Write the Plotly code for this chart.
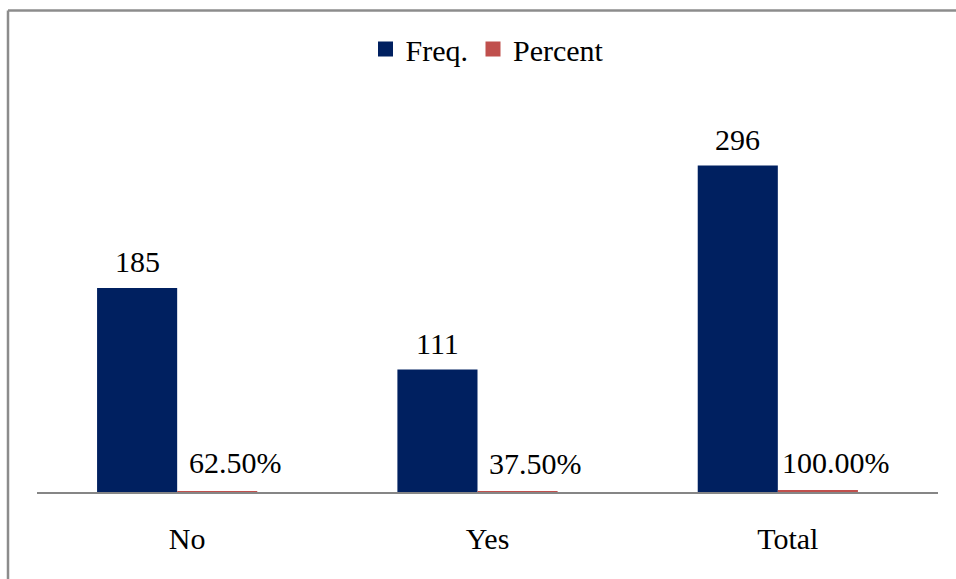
import plotly.graph_objects as go

categories = ["No", "Yes", "Total"]
freq = [185, 111, 296]
percent = [0.625, 0.375, 1.0]
percent_labels = ["62.50%", "37.50%", "100.00%"]

W, H = 956, 579
L, R, T, B = 37, 18, 106, 87
pw, ph = W - L - R, H - T - B

NAVY = "#002060"
RED = "#C0504D"
FONT = "Liberation Serif"
FS = 30

fig = go.Figure()
fig.add_trace(go.Bar(x=categories, y=freq, name="Freq.", offset=-0.3, width=0.2667, showlegend=False,
                     marker=dict(color=NAVY, line=dict(width=0))))
fig.add_trace(go.Bar(x=categories, y=percent, name="Percent", offset=-0.0333, width=0.2667, showlegend=False,
                     marker=dict(color=RED, line=dict(width=0))))
# legend entries with larger square keys
for nm, col in [("Freq.", NAVY), ("Percent", RED)]:
    fig.add_trace(go.Scatter(x=[None], y=[None], mode="markers", name=nm,
                             marker=dict(symbol="square", size=15, color=col)))

ann = []
for c, v in zip(categories, freq):
    ann.append(dict(x=c, y=v, xref="x", yref="y", text=str(v), showarrow=False,
                    xshift=-50, yshift=26, yanchor="middle", font=dict(size=FS, color="black", family=FONT)))
for c, v, t in zip(categories, percent, percent_labels):
    ann.append(dict(x=c, y=v, xref="x", yref="y", text=t, showarrow=False,
                    xshift=48, yshift=10, yanchor="bottom", font=dict(size=FS, color="black", family=FONT)))

# outer chart frame (extends beyond the visible window on right and bottom)
x0 = (8 - L) / pw
y1 = (H - B - 10.5) / ph
fig.add_shape(type="line", xref="paper", yref="paper", x0=x0, x1=(W + 10 - L) / pw, y0=y1, y1=y1,
              line=dict(color="#8C8C8C", width=2.5))
fig.add_shape(type="line", xref="paper", yref="paper", x0=x0, x1=x0, y0=(H - B - H - 10) / ph, y1=y1,
              line=dict(color="#8C8C8C", width=2.5))

fig.update_layout(
    width=W, height=H,
    margin=dict(l=L, r=R, t=T, b=B, pad=0),
    paper_bgcolor="white", plot_bgcolor="white",
    barmode="group",
    font=dict(family=FONT, size=FS, color="black"),
    showlegend=True,
    legend=dict(orientation="h", x=0.5, xanchor="center", y=(H - B - 49) / ph, yanchor="middle",
                font=dict(size=FS, family=FONT, color="black"), bgcolor="rgba(0,0,0,0)",
                itemclick=False, itemwidth=30, tracegroupgap=0),
    annotations=ann,
    xaxis=dict(showline=True, linecolor="#868686", linewidth=2, ticks="", showgrid=False,
               tickfont=dict(size=FS, family=FONT, color="black"), ticklabelstandoff=19,
               layer="above traces"),
    yaxis=dict(range=[0, 350], visible=False, showgrid=False, zeroline=False),
)

fig.write_html("out.html")
